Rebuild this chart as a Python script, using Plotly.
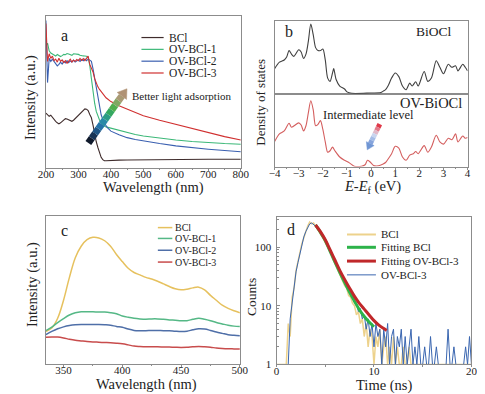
import plotly.graph_objects as go

W, H = 485, 394
FONT = "Liberation Serif"

# ---------------- Panel a : UV-vis absorption ----------------
wl_a = [200, 205, 210, 215, 220, 225, 230, 235, 240, 245, 250, 255, 260, 265, 270, 275,
        280, 285, 290, 295, 300, 305, 310, 315, 320, 325, 330, 335, 340, 345, 350, 355,
        360, 365, 370, 375, 380, 385, 390, 395, 400, 425, 450, 475, 500, 550, 600, 650,
        700, 750, 800]
abs_bcl = [35.9, 35, 33.8, 34.5, 33, 31.5, 30.5, 29.5, 28.8, 29.5, 30.5, 31.5, 32.2, 32, 31.6, 31,
           30.5, 31.2, 32.2, 33.5, 34.8, 35.8, 36.6, 37.8, 38.7, 38.5, 37.5, 35, 32.8, 28, 21.9, 17,
           13.2, 9, 6.7, 5.2, 4.5, 4.5, 4.6, 4.7, 4.8, 4.9, 5.0, 5.1, 5.2, 5.3, 5.4, 5.4,
           5.5, 5.5, 5.5]
abs_ov1 = [80, 82, 77, 75.5, 74.9, 74, 73.5, 74.5, 74, 73.2, 73.8, 74.6, 74.4, 75.2, 74.9, 74.2,
           74, 75, 74.9, 74.3, 74.6, 74, 74, 73.6, 73.5, 73.4, 72.7, 67.3, 58.7, 50, 42.4, 37,
           33.8, 31.4, 29.4, 28.2, 27.3, 26.8, 26.5, 26.2, 26, 24.5, 23, 21.8, 20.8, 19.4, 18.2, 17.2,
           16.4, 15.8, 15.4]
abs_ov2 = [97, 56, 72, 70, 71.5, 70, 68.5, 67, 68, 69.5, 68.2, 70, 69, 70.5, 69.2, 70.3,
           69.6, 70.8, 69.5, 70.5, 71, 70, 71.2, 70.4, 71.6, 70.5, 71.5, 70.8, 70, 65, 58.6, 52,
           45.6, 39, 34.8, 31.8, 29.4, 27.6, 26.2, 25, 24, 21.6, 19.7, 18.5, 17.5, 15.8, 14.3, 13.1,
           12.1, 11.2, 10.4]
abs_ov3 = [95, 70, 75, 72, 73.5, 70.5, 71.5, 69.5, 72, 70, 71, 69.2, 70.5, 68.8, 70.2, 71.5,
           69.6, 70.8, 70, 71.2, 70.4, 72, 70.6, 71.8, 70.5, 72.5, 73.5, 68, 66, 63, 58.6, 55.4,
           53.2, 51.5, 50, 48.2, 46.8, 46, 45.2, 44.3, 43.5, 40.8, 38.5, 36.2, 34.2, 31.2, 28.4, 25.6,
           22.9, 20.4, 18.2]
names_a = ["BCl", "OV-BCl-1", "OV-BCl-2", "OV-BCl-3"]
colors_a = ["#3f2c2c", "#3cb878", "#3a5fb0", "#d03030"]

# ---------------- Panel b : density of states ----------------
e_top = [-4.0, -3.8, -3.6, -3.5, -3.4, -3.3, -3.2, -3.0, -2.9, -2.8, -2.7, -2.6, -2.5, -2.4, -2.3,
         -2.2, -2.1, -2.0, -1.9, -1.8, -1.7, -1.6, -1.55, -1.45, -1.3, -1.1, -1.0, -0.8, 0.0, 0.4,
         0.5, 0.6, 0.7, 0.85, 1.0, 1.15, 1.3, 1.45, 1.6, 1.7, 1.85, 1.95, 2.2, 2.35, 2.5, 2.7,
         2.85, 3.0, 3.2, 3.35, 3.5, 3.6, 3.8, 3.9, 4.0]
dos_biocl = [3.4, 4.3, 4.6, 5.0, 5.9, 5.4, 5.1, 6.0, 5.7, 4.8, 5.4, 7.2, 9.55, 8.1, 6.3,
             5.9, 5.9, 6.1, 4.6, 2.1, 1.65, 2.8, 3.4, 1.9, 1.0, 0.6, 0.2, 0.0, 0.05, 0.1,
             0.3, 0.5, 1.0, 2.1, 2.8, 2.3, 1.0, 0.5, 1.4, 1.0, 1.6, 1.0, 3.0, 1.65, 2.1, 4.5,
             3.6, 2.7, 4.0, 3.6, 3.8, 3.1, 4.0, 3.6, 3.1]
e_bot = [-4.0, -3.8, -3.6, -3.4, -3.3, -3.0, -2.9, -2.8, -2.7, -2.6, -2.5, -2.4, -2.3, -2.2, -2.1,
         -2.0, -1.9, -1.8, -1.7, -1.6, -1.5, -1.3, -1.1, -0.9, -0.7, -0.4, -0.25, -0.15, -0.05, 0.1,
         0.3, 0.5, 0.6, 0.7, 0.85, 1.0, 1.15, 1.3, 1.45, 1.6, 1.75, 1.85, 1.95, 2.2, 2.35, 2.5,
         2.7, 2.85, 3.0, 3.2, 3.35, 3.5, 3.6, 3.8, 3.9, 4.0]
dos_ov = [3.35, 4.4, 4.8, 5.85, 5.3, 5.9, 5.6, 4.8, 5.5, 7.3, 8.9, 7.7, 5.5, 5.7, 6.2,
          5.0, 3.3, 1.9, 2.1, 2.6, 2.1, 1.25, 0.8, 0.45, 0.0, 0.0, 0.2, 0.8, 0.6, 0.1,
          0.05, 0.3, 0.5, 0.95, 1.7, 2.7, 2.45, 1.25, 0.8, 1.5, 1.7, 2.0, 1.7, 2.8, 1.9, 2.6,
          4.2, 3.3, 3.0, 3.8, 3.6, 4.4, 3.3, 4.1, 3.8, 3.9]

# ---------------- Panel c : PL spectra ----------------
wl_c = [335, 340, 345, 350, 355, 360, 365, 370, 375, 380, 385, 390, 395, 400, 405, 410, 415,
        420, 425, 430, 435, 440, 445, 450, 455, 460, 465, 470, 475, 480, 485, 490, 495, 500]
pl_bcl = [21.7, 24, 30.6, 42.8, 58.3, 71.6, 79.4, 83.8, 85.4, 85, 83.1, 79.4, 73.8, 69, 64.5, 61.6, 60,
          58.3, 57.2, 55.7, 53.9, 52.1, 50.6, 49.9, 50.3, 51.2, 51.7, 49.9, 46.1, 42.8, 39.5, 37.3, 35.7, 34.4]
pl_ov1 = [22.2, 24.6, 27.7, 30.4, 32.8, 34.3, 35, 35, 35, 34.8, 34.8, 34.4, 33.7, 32.2, 31.3, 30.6, 30.2,
          30.0, 30.2, 30.2, 29.9, 29.5, 29.3, 29.0, 29.0, 29.9, 30.6, 30.0, 29.0, 27.7, 26.8, 25.9, 25.3, 25.0]
pl_ov2 = [19.5, 21.7, 23.5, 24.8, 25.7, 26.2, 26.4, 26.4, 26.4, 26.4, 26.2, 25.9, 25.1, 24.6, 23.3, 22.4, 22.2,
          22.2, 22.4, 22.4, 22.2, 22.2, 21.9, 21.7, 21.9, 22.8, 23.5, 23.3, 22.4, 21.3, 20.4, 19.5, 19.1, 18.8]
pl_ov3 = [17.7, 17.9, 17.9, 17.3, 16.4, 15.7, 15.3, 14.9, 14.6, 14.4, 14.2, 14.0, 13.7, 13.3, 12.6, 11.8, 11.5,
          11.3, 11.3, 11.3, 11.2, 11.1, 11.0, 10.9, 11.0, 11.3, 11.5, 11.3, 11.0, 10.5, 10.2, 10.0, 9.9, 9.8]
names_c = ["BCl", "OV-BCl-1", "OV-BCl-2", "OV-BCl-3"]
colors_c = ["#e6c15e", "#55b886", "#4f6fa8", "#c84c4c"]

# ---------------- Panel d : TRPL decay ----------------
t_d = [round(i * 0.2, 1) for i in range(101)]
cnt_bcl = [1, 1, 1, 1, 1, 1, 5, 3, 14, 20,
           40, 58, 78, 115, 145, 190, 230, 270, 250, 260,
           230, 210, 185, 165, 140, 120, 104, 88, 76, 62,
           52, 46, 38, 32, 27, 22, 20, 15, 14, 11,
           10, 7, 8, 5, 6, 3, 5, 2, 4, 3,
           1, 3, 2, 4, 1, 2, 3, 1, 2, 1,
           3, 1, 2, 1, 1, 2, 1, 1, 2, 1,
           1, 1, 1, 1, 1, 1, 1, 1, 1, 1,
           1, 1, 1, 1, 1, 1, 1, 1, 1, 1,
           1, 1, 1, 1, 1, 1, 1, 1, 1, 1,
           1]
cnt_ov3 = [1, 1, 1, 1, 1, 1, 1, 6, 12, 22,
           38, 55, 80, 110, 150, 185, 215, 250, 260, 245,
           235, 215, 195, 170, 148, 128, 112, 96, 82, 70,
           58, 52, 44, 37, 32, 27, 24, 19, 17, 15,
           12, 11, 8, 9, 6, 7, 4, 6, 3, 5,
           2, 5, 3, 4, 1, 4, 2, 5, 1, 3,
           4, 1, 3, 2, 4, 1, 3, 1, 2, 4,
           1, 2, 1, 3, 1, 1, 2, 1, 1, 3,
           1, 1, 2, 1, 1, 1, 1, 1, 4, 1,
           1, 2, 1, 1, 1, 1, 1, 2, 1, 3,
           1]
t_fit_bcl = [4.0, 4.5, 5.0, 5.5, 6.0, 6.5, 7.0, 7.5, 8.0, 8.5, 9.0, 9.5, 10.0]
fit_bcl = [240, 180, 130, 85, 56, 37, 25, 17, 12, 8.6, 6.6, 5.3, 4.4]
t_fit_ov3 = [4.0, 4.5, 5.0, 5.5, 6.0, 6.5, 7.0, 7.5, 8.0, 8.5, 9.0, 9.5, 10.0, 10.5, 11.0, 11.3]
fit_ov3 = [240, 185, 134, 90, 60, 40, 28, 20, 14.5, 11, 8.8, 7.0, 5.6, 4.7, 4.1, 3.8]
names_d = ["BCl", "Fitting BCl", "Fitting OV-BCl-3", "OV-BCl-3"]
colors_d = ["#edd28c", "#2db34a", "#c0282a", "#3a66b0"]
widths_d = [2, 3, 3, 1]


def PX(x):
    return x / W


def PY(y):
    return 1 - y / H


fig = go.Figure()

# panel a
for yv, nm, c in zip([abs_bcl, abs_ov1, abs_ov2, abs_ov3], names_a, colors_a):
    fig.add_trace(go.Scatter(x=wl_a, y=yv, name=nm, mode="lines", line=dict(color=c, width=1.1),
                             xaxis="x", yaxis="y", showlegend=False))
# panel b
fig.add_trace(go.Scatter(x=e_top, y=dos_biocl, mode="lines", line=dict(color="#404040", width=1.1, shape="spline", smoothing=0.8),
                         xaxis="x3", yaxis="y3", showlegend=False, name="BiOCl"))
fig.add_trace(go.Scatter(x=e_bot, y=dos_ov, mode="lines", line=dict(color="#d45f5f", width=1.1, shape="spline", smoothing=0.8),
                         xaxis="x2", yaxis="y2", showlegend=False, name="OV-BiOCl"))
# panel c
for yv, nm, c in zip([pl_bcl, pl_ov1, pl_ov2, pl_ov3], names_c, colors_c):
    fig.add_trace(go.Scatter(x=wl_c, y=yv, name=nm, mode="lines", line=dict(color=c, width=1.5, shape="spline"),
                             xaxis="x4", yaxis="y4", showlegend=False))
# panel d
fig.add_trace(go.Scatter(x=t_d, y=cnt_bcl, name=names_d[0], mode="lines", line=dict(color=colors_d[0], width=1.5),
                         xaxis="x5", yaxis="y5", showlegend=False))
fig.add_trace(go.Scatter(x=t_d, y=cnt_ov3, name=names_d[3], mode="lines", line=dict(color=colors_d[3], width=1),
                         xaxis="x5", yaxis="y5", showlegend=False))
fig.add_trace(go.Scatter(x=t_fit_bcl, y=fit_bcl, name=names_d[1], mode="lines", line=dict(color=colors_d[1], width=3, shape="spline"),
                         xaxis="x5", yaxis="y5", showlegend=False))
fig.add_trace(go.Scatter(x=t_fit_ov3, y=fit_ov3, name=names_d[2], mode="lines", line=dict(color=colors_d[2], width=3, shape="spline"),
                         xaxis="x5", yaxis="y5", showlegend=False))

LINEC = "#8c8c8c"
TF = dict(size=11, family=FONT, color="#222")


def axis(domain, **kw):
    d = dict(domain=domain, showline=True, linecolor=LINEC, linewidth=1, mirror=True,
             showgrid=False, zeroline=False, ticks="outside", ticklen=2, tickcolor=LINEC,
             tickfont=TF)
    d.update(kw)
    return d


xa = [PX(31), PX(233)]
ya = [PY(162), PY(8)]
xb = [PX(268), PX(468)]
yb_bot = [PY(161), PY(87)]
yb_top = [PY(87), PY(13)]
xc = [PX(31), PX(232)]
yc = [PY(361), PY(211)]
xd = [PX(270), PX(472)]
yd = [PY(362), PY(212)]

MINX = dict(ticks="outside", ticklen=1.5, tickcolor=LINEC)
SO = -6

fig.update_layout(
    width=W, height=H, margin=dict(l=0, r=0, t=0, b=0),
    paper_bgcolor="white", plot_bgcolor="white",
    font=dict(family=FONT, color="#222"),
    xaxis=axis(xa, anchor="y", range=[200, 800], tickvals=[200, 300, 400, 500, 600, 700, 800],
               minor=dict(MINX, dtick=50), ticklabelstandoff=SO),
    yaxis=axis(ya, anchor="x", range=[0, 100], showticklabels=False, ticks=""),
    xaxis2=axis(xb, anchor="y2", range=[-4, 4], dtick=1, minor=dict(MINX, dtick=0.5), ticklabelstandoff=SO),
    yaxis2=axis(yb_bot, anchor="x2", range=[-0.05, 9.87], showticklabels=False, ticks=""),
    xaxis3=axis(xb, anchor="y3", range=[-4, 4], showticklabels=False, ticks=""),
    yaxis3=axis(yb_top, anchor="x3", range=[-0.05, 10], showticklabels=False, ticks=""),
    xaxis4=axis(xc, anchor="y4", range=[335, 500], tickvals=[350, 400, 450, 500],
                minor=dict(MINX, dtick=25), ticklabelstandoff=SO),
    yaxis4=axis(yc, anchor="x4", range=[0, 100], showticklabels=False, ticks=""),
    xaxis5=axis(xd, anchor="y5", range=[0, 20], tickvals=[0, 10, 20], minor=dict(MINX, dtick=5),
                ticklabelstandoff=SO),
    yaxis5=axis(yd, anchor="x5", type="log", range=[0, 2.52], tickvals=[1, 10, 100],
                ticks="inside", ticklen=3, ticklabelstandoff=2,
                minor=dict(ticks="inside", ticklen=2, tickcolor=LINEC,
                           tickvals=[2, 3, 4, 5, 6, 7, 8, 9, 20, 30, 40, 50, 60, 70, 80, 90, 200, 300])),
)

ann = []


def text(t, x, y, size=12, angle=0, xanchor="center", color="#222"):
    ann.append(dict(text=t, x=PX(x), y=PY(y), xref="paper", yref="paper", showarrow=False,
                    xanchor=xanchor, yanchor="middle", textangle=angle, borderpad=0,
                    font=dict(size=size, family=FONT, color=color)))


# panel letters
text("a", 50, 28, 16)
text("b", 283, 24, 16)
text("c", 50, 226, 16)
text("d", 285, 225, 16)
# axis titles
text("Intensity (a.u.)", 15, 91, 14.5, -90)
text("Wavelength (nm)", 143, 182, 14.5)
text("Density of states", 253, 96, 13, -90)
text("<i>E</i>-<i>E</i><sub>f</sub> (eV)", 369, 182, 14.5)
text("Intensity (a.u.)", 17, 281, 14.5, -90)
text("Wavelength (nm)", 135, 382, 14.5)
text("Counts", 244, 293, 13.5, -90)
text("Time (ns)", 381, 383, 14.5)
# in-plot labels
text("BiOCl", 433.5, 24, 13.5)
text("OV-BiOCl", 430.5, 96, 14.5)
text("Intermediate level", 365, 109, 12.5)
text("Better light adsorption", 172, 89, 11)

shapes = []


def seg(x0, y0, x1, y1, color, width):
    shapes.append(dict(type="line", xref="paper", yref="paper", x0=PX(x0), y0=PY(y0), x1=PX(x1), y1=PY(y1),
                       line=dict(color=color, width=width)))


# legends drawn manually (compact spacing as in the source figure)
for nm, c, yy in zip(names_a, colors_a, [30, 42, 54, 66]):
    seg(130, yy, 153, yy, c, 1.2)
    text(nm, 158, yy, 11.5, xanchor="left")
for nm, c, yy in zip(names_c, colors_c, [223, 234, 246, 258]):
    seg(147, yy, 162, yy, c, 1.5)
    text(nm, 164, yy, 10, xanchor="left")
for nm, c, w, yy in zip(names_d, colors_d, widths_d, [230, 243, 257, 271]):
    seg(343, yy, 373, yy, c, w)
    text(nm, 377, yy, 11, xanchor="left")


def grad_arrow(x0, y0, x1, y1, cols, width, head_len, head_w, head_col):
    import math
    dx, dy = x1 - x0, y1 - y0
    L = math.hypot(dx, dy)
    ux, uy = dx / L, dy / L
    bx, by = x1 - head_len * ux, y1 - head_len * uy
    n = len(cols)
    for i, c in enumerate(cols):
        a0 = i / n
        a1 = (i + 1) / n
        seg(x0 + (bx - x0) * a0, y0 + (by - y0) * a0, x0 + (bx - x0) * a1, y0 + (by - y0) * a1, c, width)
    pxv, pyv = -uy, ux
    c1 = (bx + head_w / 2 * pxv, by + head_w / 2 * pyv)
    c2 = (bx - head_w / 2 * pxv, by - head_w / 2 * pyv)
    path = "M %f %f L %f %f L %f %f Z" % (PX(x1), PY(y1), PX(c1[0]), PY(c1[1]), PX(c2[0]), PY(c2[1]))
    shapes.append(dict(type="path", xref="paper", yref="paper", path=path,
                       fillcolor=head_col, line=dict(color=head_col, width=0.5)))


grad_arrow(75, 137, 115, 82,
           ["#101a2c", "#173456", "#1f5585", "#2673a8", "#2a8aa8", "#2d9c86", "#34a860", "#4fae4e", "#7fa862", "#a99a74"],
           7, 9, 12, "#b09274")
grad_arrow(377, 118, 364, 144,
           ["#e03848", "#e27a8a", "#e0b8c8", "#c8d4ee", "#a4bce6", "#86a4dc"],
           5, 7, 9, "#7096d4")

fig.update_layout(annotations=ann, shapes=shapes)
fig.write_html("out.html")
